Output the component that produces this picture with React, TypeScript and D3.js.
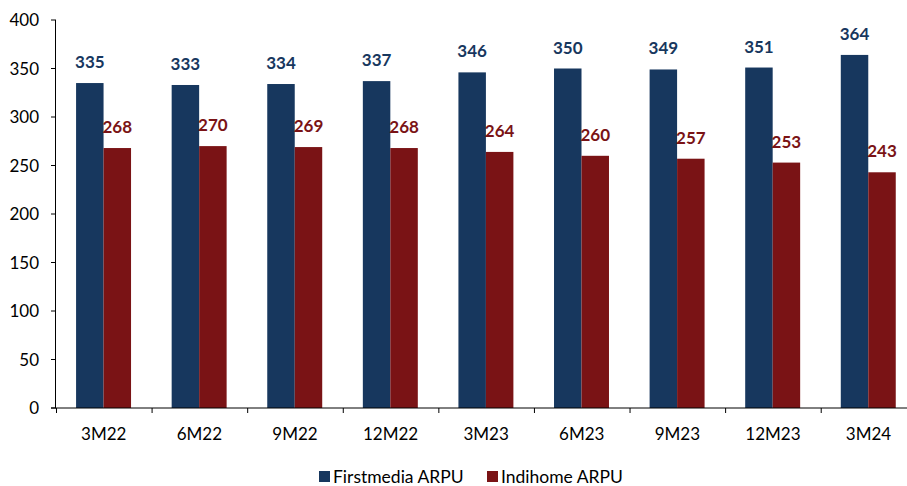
import React from "react";
import * as d3 from "d3";

const categories = ["3M22", "6M22", "9M22", "12M22", "3M23", "6M23", "9M23", "12M23", "3M24"];
const firstmedia = [335, 333, 334, 337, 346, 350, 349, 351, 364];
const indihome = [268, 270, 269, 268, 264, 260, 257, 253, 243];
const seriesNames = ["Firstmedia ARPU", "Indihome ARPU"];
const seriesColors = ["#17375E", "#7A1315"];
const yTicks = [0, 50, 100, 150, 200, 250, 300, 350, 400];

const W = 907;
const H = 486;
const FONT = "Lato, 'Open Sans', sans-serif";

export default function App() {
  const left = 56;
  const right = 916.3;
  const top = 20;
  const bottom = 408;

  const x0 = d3.scaleBand<string>().domain(categories).range([left, right]).padding(0);
  const step = x0.step();
  const x1 = d3
    .scaleBand<number>()
    .domain([0, 1])
    .range([step * 0.21, step * 0.785])
    .padding(0);
  const y = d3.scaleLinear().domain([0, 400]).range([bottom, top]);

  const series = [firstmedia, indihome];

  return (
    <svg
      width={W}
      height={H}
      style={{ position: "fixed", left: 0, top: 0, background: "#fff" }}
      fontFamily={FONT}
    >
      {/* bars */}
      {series.map((vals, si) =>
        vals.map((v, i) => (
          <rect
            key={`b${si}-${i}`}
            x={(x0(categories[i]) as number) + (x1(si) as number)}
            y={y(v)}
            width={x1.bandwidth()}
            height={y(0) - y(v)}
            fill={seriesColors[si]}
          />
        ))
      )}
      {/* labels */}
      {series.map((vals, si) =>
        vals.map((v, i) => (
          <text
            key={`l${si}-${i}`}
            x={(x0(categories[i]) as number) + (x1(si) as number) + x1.bandwidth() / 2}
            y={y(v) - 15}
            textAnchor="middle"
            fontSize={17}
            fontWeight="bold"
            fill={seriesColors[si]}
          >
            {v}
          </text>
        ))
      )}
      {/* y axis */}
      <line x1={left - 0.5} x2={left - 0.5} y1={top} y2={bottom} stroke="#000" strokeWidth={1} />
      {yTicks.map((t) => (
        <g key={`yt${t}`}>
          <line x1={left - 5} x2={left} y1={y(t)} y2={y(t)} stroke="#000" strokeWidth={1} />
          <text x={left - 17} y={y(t)} dy="0.36em" textAnchor="end" fontSize={17} fill="#000">
            {t}
          </text>
        </g>
      ))}
      {/* x axis */}
      <line x1={left - 5} x2={right} y1={bottom} y2={bottom} stroke="#000" strokeWidth={1} />
      {categories.map((c, i) => (
        <line
          key={`xt${i}`}
          x1={(x0(c) as number) + 0.5}
          x2={(x0(c) as number) + 0.5}
          y1={bottom}
          y2={bottom + 5}
          stroke="#000"
          strokeWidth={1}
        />
      ))}
      {categories.map((c) => (
        <text
          key={`xl${c}`}
          x={(x0(c) as number) + step / 2}
          y={bottom + 32}
          textAnchor="middle"
          fontSize={17}
          fill="#000"
        >
          {c}
        </text>
      ))}
      {/* legend */}
      {seriesNames.map((n, i) => {
        const lx = [319, 487][i];
        return (
          <g key={`lg${i}`}>
            <rect x={lx} y={471} width={11} height={11} fill={seriesColors[i]} />
            <text x={lx + 14} y={477} dy="0.36em" fontSize={17.5} fill="#000">
              {n}
            </text>
          </g>
        );
      })}
    </svg>
  );
}
